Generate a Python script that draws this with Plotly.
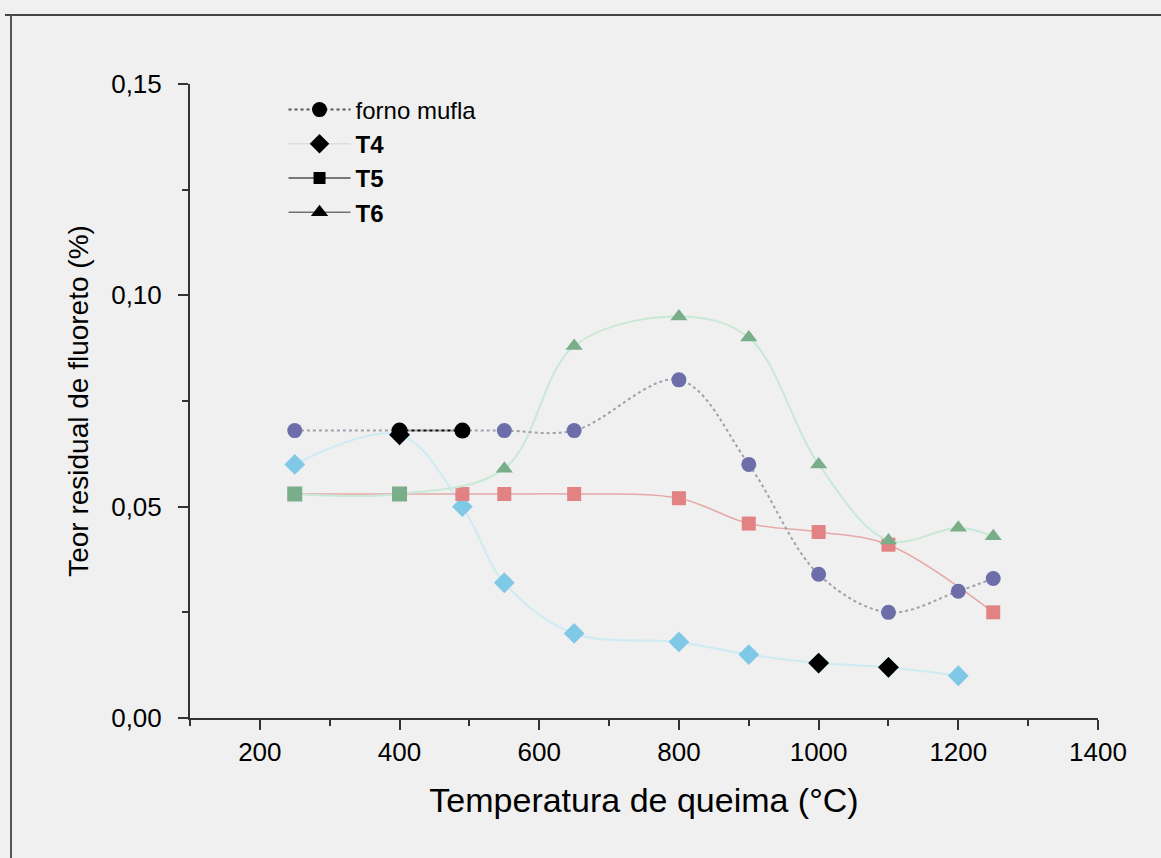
import plotly.graph_objects as go

# ---- data ----
temps_mufla = [250, 400, 490, 550, 650, 800, 900, 1000, 1100, 1200, 1250]
mufla = [0.068, 0.068, 0.068, 0.068, 0.068, 0.080, 0.060, 0.034, 0.025, 0.030, 0.033]

temps_t4 = [250, 400, 490, 550, 650, 800, 900, 1000, 1100, 1200]
t4 = [0.060, 0.067, 0.050, 0.032, 0.020, 0.018, 0.015, 0.013, 0.012, 0.010]

temps_t5 = [250, 400, 490, 550, 650, 800, 900, 1000, 1100, 1250]
t5 = [0.053, 0.053, 0.053, 0.053, 0.053, 0.052, 0.046, 0.044, 0.041, 0.025]

temps_t6 = [250, 400, 550, 650, 800, 900, 1000, 1100, 1200, 1250]
t6 = [0.053, 0.053, 0.059, 0.088, 0.095, 0.090, 0.060, 0.042, 0.045, 0.043]

mufla_black_x = [400, 490]
mufla_black_y = [0.068, 0.068]
t4_black_x = [400, 1000, 1100]
t4_black_y = [0.067, 0.013, 0.012]

x_ticks = [200, 400, 600, 800, 1000, 1200, 1400]
y_ticks = [0.00, 0.05, 0.10, 0.15]

BG = "#f0f0f0"
FONT = "Liberation Sans, Arial, sans-serif"

fig = go.Figure()

# faded coloured series
fig.add_trace(go.Scatter(
    x=temps_t4, y=t4, mode="lines+markers", showlegend=False,
    line=dict(color="#cdebf2", width=2, shape="spline", smoothing=1),
    marker=dict(symbol="diamond", size=16, color="#80c9e6")))
fig.add_trace(go.Scatter(
    x=temps_t5, y=t5, mode="lines+markers", showlegend=False,
    line=dict(color="#e6a8a8", width=1.5, shape="spline", smoothing=1),
    marker=dict(symbol="square", size=14, color="#e28283")))
fig.add_trace(go.Scatter(
    x=temps_t6, y=t6, mode="lines+markers", showlegend=False,
    line=dict(color="#c8e9d6", width=2, shape="spline", smoothing=1),
    marker=dict(symbol=["square", "square"] + ["triangle-up"] * (len(t6) - 2),
                size=15, color="#7aae8a")))
fig.add_trace(go.Scatter(
    x=temps_mufla, y=mufla, mode="lines+markers", showlegend=False,
    line=dict(color="#a0a0ad", width=2, dash="dot", shape="spline", smoothing=1),
    marker=dict(symbol="circle", size=15, color="#6d6daa")))

# black points
fig.add_trace(go.Scatter(
    x=t4_black_x, y=t4_black_y, mode="markers", showlegend=False,
    marker=dict(symbol="diamond", size=16, color="black")))
fig.add_trace(go.Scatter(
    x=mufla_black_x, y=mufla_black_y, mode="lines+markers", showlegend=False,
    line=dict(color="black", width=2, dash="dot"),
    marker=dict(symbol="circle", size=16, color="black")))

# legend entries
fig.add_trace(go.Scatter(x=[None], y=[None], mode="lines+markers", name="forno mufla",
                         line=dict(color="#555", width=2, dash="dot"),
                         marker=dict(symbol="circle", size=15, color="black")))
fig.add_trace(go.Scatter(x=[None], y=[None], mode="lines+markers", name="<b>T4</b>",
                         line=dict(color="#dddddd", width=1.5),
                         marker=dict(symbol="diamond", size=15, color="black")))
fig.add_trace(go.Scatter(x=[None], y=[None], mode="lines+markers", name="<b>T5</b>",
                         line=dict(color="black", width=1),
                         marker=dict(symbol="square", size=12, color="black")))
fig.add_trace(go.Scatter(x=[None], y=[None], mode="lines+markers", name="<b>T6</b>",
                         line=dict(color="#333", width=1),
                         marker=dict(symbol="triangle-up", size=15, color="black")))

W, H = 1161, 858
L, R, T, B = 190, 63, 84, 140
pw, ph = W - L - R, H - T - B

def px(xp):
    return (xp - L) / pw

def py(yp):
    return (H - B - yp) / ph

fig.update_layout(
    width=W, height=H,
    margin=dict(l=L, r=R, t=T, b=B),
    paper_bgcolor=BG, plot_bgcolor=BG,
    separators=",.",
    font=dict(family=FONT, color="black", size=22),
    xaxis=dict(range=[100, 1400], tickvals=x_ticks, ticks="outside", ticklen=10,
               tickwidth=1.5, tickcolor="#333", showline=True, linecolor="#333",
               linewidth=2, showgrid=False, zeroline=False,
               tickfont=dict(size=26),
               minor=dict(dtick=100, tick0=100, ticks="outside", ticklen=6,
                          tickcolor="#333", tickwidth=1.5),
               title=dict(text="Temperatura de queima (°C)", font=dict(size=34),
                          standoff=22)),
    yaxis=dict(range=[0, 0.15], tickvals=y_ticks, tickformat=".2f", ticks="outside",
               ticklen=10, tickwidth=1.5, tickcolor="#333", showline=True,
               linecolor="#333", linewidth=2, showgrid=False, zeroline=False,
               tickfont=dict(size=26), ticklabelstandoff=11,
               minor=dict(dtick=0.025, tick0=0, ticks="outside", ticklen=6,
                          tickcolor="#333", tickwidth=1.5),
               title=dict(text="Teor residual de fluoreto (%)", font=dict(size=28),
                          standoff=14)),
    legend=dict(x=0.103, y=0.9945, xanchor="left", yanchor="top",
                bgcolor="rgba(0,0,0,0)", font=dict(size=24), tracegroupgap=0,
                itemwidth=62),
    shapes=[
        dict(type="line", xref="paper", yref="paper", x0=px(5), x1=px(1161),
             y0=py(15), y1=py(15), line=dict(color="#444", width=2)),
        dict(type="line", xref="paper", yref="paper", x0=px(11), x1=px(11),
             y0=py(15), y1=py(858), line=dict(color="#555", width=2)),
    ],
)

fig.write_html("out.html")
